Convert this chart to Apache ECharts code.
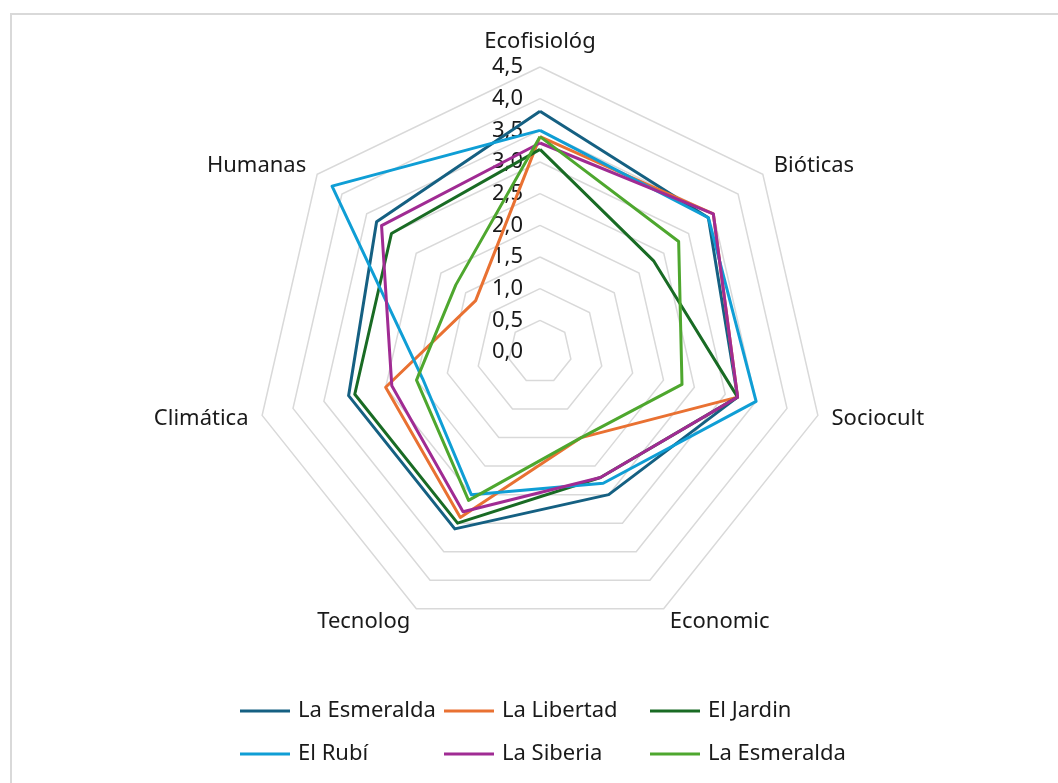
<!DOCTYPE html>
<html>
<head>
<meta charset="utf-8">
<title>Radar</title>
<script src="https://cdn.jsdelivr.net/npm/echarts@6/dist/echarts.min.js"></script>
<style>
  html, body {
    margin: 0;
    padding: 0;
    background: #fff;
  }
  .frame {
    position: absolute;
    left: 10px;
    top: 13px;
    width: 1100px;
    height: 820px;
    border-top: 2px solid #d9d9d9;
    border-left: 2px solid #d9d9d9;
  }
  #radar {
    position: absolute;
    left: 0;
    top: 0;
    width: 1058px;
    height: 783px;
  }
</style>
</head>
<body>
<div class="frame"></div>
<div id="radar"></div>
<script>
// ejes del radar (en el sentido de las agujas del reloj desde arriba)
const categories = ['Ecofisiológ', 'Bióticas', 'Sociocult', 'Economic', 'Tecnolog', 'Climática', 'Humanas'];
const tickLabels = ['0,0', '0,5', '1,0', '1,5', '2,0', '2,5', '3,0', '3,5', '4,0', '4,5'];

// fincas (la segunda "La Esmeralda" lleva clave propia para la leyenda)
const seriesNames = ['La Esmeralda', 'La Libertad', 'El Jardin', 'El Rubí', 'La Siberia', 'La Esmeralda (2)'];
const laEsmeralda = [3.8, 3.4, 3.2, 2.5, 3.1, 3.1, 3.3];
const laLibertad = [3.4, 3.5, 3.2, 1.5, 2.9, 2.5, 1.3];
const elJardin = [3.2, 2.3, 3.2, 2.2, 3.0, 3.0, 3.0];
const elRubi = [3.5, 3.4, 3.5, 2.3, 2.5, 1.9, 4.2];
const laSiberia = [3.3, 3.5, 3.2, 2.2, 2.8, 2.4, 3.2];
const laEsmeralda2 = [3.4, 2.8, 2.3, 1.5, 2.6, 2.0, 1.7];

const colors = ['#156082', '#E97132', '#196B24', '#0F9ED5', '#A02B93', '#4EA72E'];
const allValues = [laEsmeralda, laLibertad, elJardin, elRubi, laSiberia, laEsmeralda2];

const font = '"Noto Sans", "DejaVu Sans", sans-serif';

// echarts pone los ejes en sentido antihorario, asi que se invierte el orden
const order = [0, 6, 5, 4, 3, 2, 1];
function reorder (arr) {
  return order.map(function (k) { return arr[k]; });
}

let indicator = reorder(categories).map(function (c, i) {
  let ind = { name: c, min: 0, max: 4.5 };
  if (i === 0) {
    ind.axisLabel = {
      show: true,
      margin: 17,
      color: '#1a1a1a',
      fontSize: 22,
      fontFamily: font,
      formatter: function (v) {
        return tickLabels[Math.round(v * 2)];
      }
    };
  }
  return ind;
});

// una leyenda por entrada para dejarlas en columnas como en el original
const legendLeft = [240, 444, 650];
const legendTop = [700, 743];
let legends = seriesNames.map(function (name, i) {
  return {
    left: legendLeft[i % 3],
    top: legendTop[Math.floor(i / 3)],
    padding: 0,
    data: [name],
    itemWidth: 50,
    itemHeight: 3,
    icon: 'rect',
    selectedMode: false,
    textStyle: {
      color: '#1a1a1a',
      fontSize: 22,
      fontFamily: font,
      padding: [0, 0, 0, 3]
    },
    formatter: function (n) {
      return n.replace(' (2)', '');
    }
  };
});

let myChart = echarts.init(document.getElementById('radar'));
let option = {
  color: colors,
  animation: false,
  legend: legends,
  radar: {
    center: [540, 352],
    radius: 285,
    shape: 'polygon',
    splitNumber: 9,
    startAngle: 90,
    indicator: indicator,
    axisNameGap: 14,
    axisName: {
      color: '#1a1a1a',
      fontSize: 22,
      fontFamily: font
    },
    axisLine: { show: false },
    axisTick: { show: false },
    axisLabel: { show: false },
    splitArea: { show: false },
    splitLine: {
      lineStyle: {
        color: '#d9d9d9',
        width: 1.5
      }
    }
  },
  series: [{
    type: 'radar',
    symbol: 'none',
    lineStyle: { width: 3 },
    data: allValues.map(function (vals, i) {
      return {
        name: seriesNames[i],
        value: reorder(vals),
        lineStyle: { color: colors[i], width: 3 },
        itemStyle: { color: colors[i] }
      };
    })
  }]
};
myChart.setOption(option);
</script>
</body>
</html>
